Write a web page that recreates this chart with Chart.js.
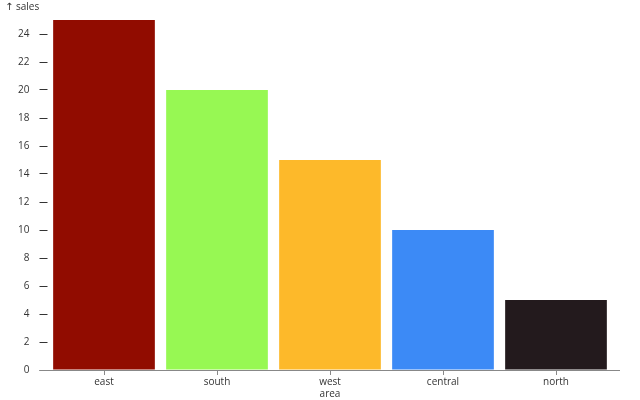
<!DOCTYPE html>
<html>
<head>
<meta charset="utf-8">
<script src="https://cdn.jsdelivr.net/npm/chart.js@4/dist/chart.umd.min.js"></script>
<style>
  html, body { margin: 0; padding: 0; background: #fff; }
  #wrap { width: 640px; height: 400px; }
</style>
</head>
<body>
<div id="wrap"><canvas id="chart"></canvas></div>
<script>
// chart data
const categories = ['east', 'south', 'west area', 'central', 'north'];
const sales = [25, 20, 15, 10, 5];
const barColors = ['#910c00', '#97f853', '#fdb92a', '#3c8af6', '#231a1d'];
const yTicks = [0, 2, 4, 6, 8, 10, 12, 14, 16, 18, 20, 22, 24];

const textColor = '#333';
const axisColor = '#888';
const font = { family: 'Open Sans', size: 10, lineHeight: 1.2 };

// baseline rule at y = 0, a bit wider than the bands
const baseline = {
    id: 'baseline',
    afterDatasetsDraw(chart) {
        const ctx = chart.ctx;
        const area = chart.chartArea;
        const y = Math.round(chart.scales.y.getPixelForValue(0)) + 0.5;
        ctx.save();
        ctx.strokeStyle = axisColor;
        ctx.lineWidth = 1;
        ctx.beginPath();
        ctx.moveTo(area.left - 7.5, y);
        ctx.lineTo(area.right + 7.5, y);
        ctx.stroke();
        ctx.restore();
    }
};

new Chart(document.getElementById('chart'), {
    type: 'bar',
    data: {
        labels: categories,
        datasets: [{
            label: 'sales',
            data: sales,
            backgroundColor: barColors,
            borderWidth: 0,
            barPercentage: 0.9,
            categoryPercentage: 1
        }]
    },
    options: {
        responsive: true,
        maintainAspectRatio: false,
        animation: false,
        layout: { padding: { left: 5, right: 27.5, top: 1, bottom: 0 } },
        plugins: {
            legend: { display: false },
            tooltip: { enabled: false },
            title: {
                display: true,
                text: '↑ sales',
                align: 'start',
                color: textColor,
                font: { family: "'Open Sans', 'DejaVu Sans'", size: 10, weight: 'normal', lineHeight: 1.2 },
                padding: { top: 0, bottom: 7 }
            }
        },
        scales: {
            x: {
                offset: true,
                border: { display: false },
                afterFit: axis => { axis.height = 30; },
                grid: {
                    offset: false,
                    drawOnChartArea: false,
                    drawTicks: true,
                    tickLength: 5,
                    tickColor: axisColor
                },
                ticks: {
                    color: textColor,
                    font: font,
                    padding: 1,
                    maxRotation: 0,
                    callback: function(value) {
                        return this.getLabelForValue(value).split(' ');
                    }
                }
            },
            y: {
                min: 0,
                max: 25,
                border: { display: false },
                afterBuildTicks: axis => {
                    axis.ticks = yTicks.map(v => ({ value: v }));
                },
                afterFit: axis => { axis.width = 42.5; },
                grid: {
                    drawOnChartArea: false,
                    drawTicks: true,
                    tickLength: 16,
                    tickColor: textColor,
                    tickBorderDash: [8, 8],
                    tickBorderDashOffset: 8
                },
                ticks: {
                    color: textColor,
                    font: font,
                    padding: 2
                }
            }
        }
    },
    plugins: [baseline]
});
</script>
</body>
</html>
